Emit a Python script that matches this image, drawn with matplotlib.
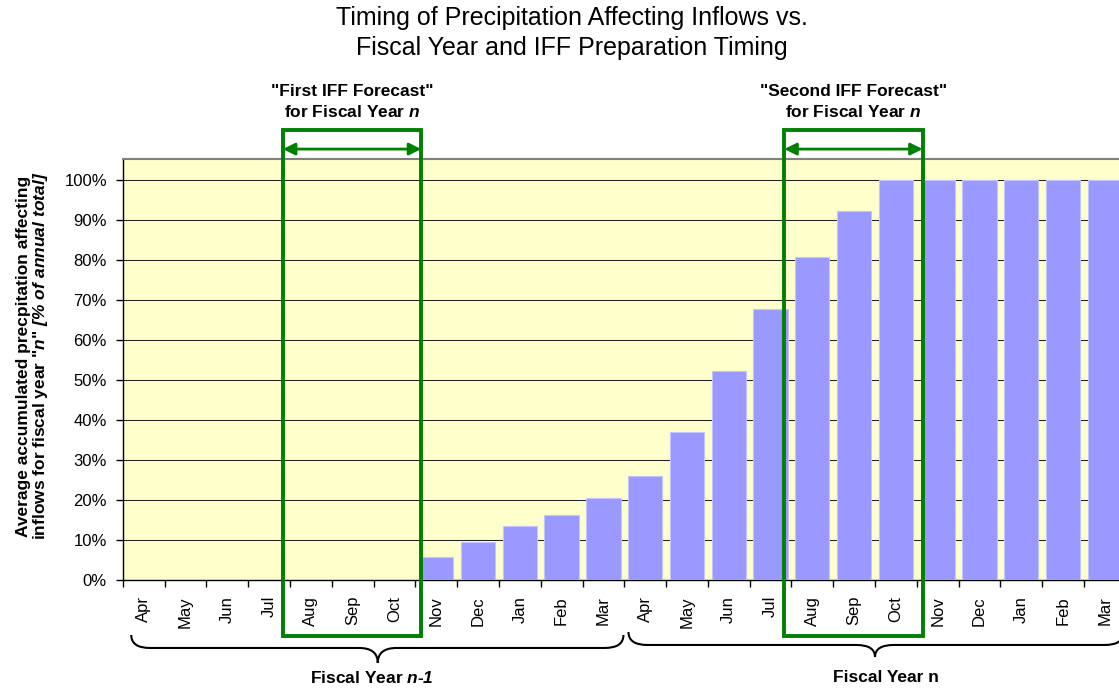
import numpy as np
import matplotlib
matplotlib.use("Agg")
import matplotlib.pyplot as plt
from matplotlib.patches import Rectangle, PathPatch
from matplotlib.path import Path
from matplotlib.ticker import PercentFormatter

plt.rcParams['font.family'] = ['Liberation Sans', 'DejaVu Sans']
# math segments are only used for the bold-italic bits of the labels
plt.rcParams['mathtext.fontset'] = 'custom'
plt.rcParams['mathtext.rm'] = 'Liberation Sans:bold:italic'
plt.rcParams['mathtext.bf'] = 'Liberation Sans:bold:italic'
plt.rcParams['mathtext.it'] = 'Liberation Sans:bold:italic'

# data
months = ['Apr', 'May', 'Jun', 'Jul', 'Aug', 'Sep', 'Oct', 'Nov', 'Dec', 'Jan', 'Feb', 'Mar']
fy_prev = [0, 0, 0, 0, 0, 0, 0, 0.058, 0.096, 0.135, 0.1625, 0.206]
fy_curr = [0.26, 0.369, 0.5225, 0.677, 0.807, 0.923, 1.0, 1.0, 1.0, 1.0, 1.0, 1.0]
labels = months + months
values = fy_prev + fy_curr

forecast_names = ['"First IFF Forecast"', '"Second IFF Forecast"']
forecast_spans = [(3.33, 6.64), (15.33, 18.64)]   # in month-index units

green = '#008000'

fig = plt.figure(figsize=(11.19, 6.88), dpi=100)
ax = fig.add_axes([0.1098, 0.157, 0.8962, 0.6115])

x = np.arange(len(values))
ax.bar(x, values, width=0.82, color='#9999FF', edgecolor='#C4C4FF', linewidth=0.8, zorder=3)
ax.set_facecolor('#FFFFCC')
ax.set_xlim(-0.5, len(values) - 0.5)
ax.set_ylim(0, 1.052)

ax.set_yticks(np.arange(0, 1.01, 0.1))
ax.yaxis.set_major_formatter(PercentFormatter(1.0, decimals=0))
ax.yaxis.grid(True, color='#222222', lw=0.75)
ax.set_axisbelow(True)
ax.tick_params(axis='y', direction='out', length=5, width=1, pad=6.5, labelsize=12)

ax.set_xticks(x)
ax.set_xticklabels(labels, rotation=90, fontsize=12)
ax.set_xticks(np.arange(-0.5, len(values)), minor=True)
ax.tick_params(axis='x', which='major', length=0, pad=11.5)
ax.tick_params(axis='x', which='minor', direction='out', length=5, width=1)

ax.spines['top'].set_color('#808080')
ax.spines['top'].set_linewidth(1.5)
ax.spines['right'].set_visible(False)
for s in ['left', 'bottom']:
    ax.spines[s].set_color('black')
    ax.spines[s].set_linewidth(1)

# pixel rows -> data y (0% at 580 px, 40 px per 10%)
def py(p):
    return (580 - p) / 400

# forecast boxes with arrows
for name, (x0, x1) in zip(forecast_names, forecast_spans):
    ax.add_patch(Rectangle((x0, py(636)), x1 - x0, py(130) - py(636), fill=False,
                           edgecolor=green, lw=2.8, joinstyle='miter',
                           clip_on=False, zorder=6))
    ax.annotate('', xy=(x1, py(149)), xytext=(x0, py(149)),
                arrowprops=dict(arrowstyle='<|-|>', color=green, lw=2,
                                mutation_scale=18, shrinkA=0, shrinkB=0),
                annotation_clip=False, zorder=5)
    ax.text((x0 + x1) / 2, py(102), name + '\nfor Fiscal Year $n$',
            ha='center', va='center', fontsize=12.5, fontweight='bold',
            linespacing=1.35, clip_on=False)

# curly braces under the months
def brace(x0, x1, xc, y_tip, y_line, y_pt, d=0.45):
    verts = [(x0, y_tip), (x0, y_line), (x0 + d, y_line),
             (xc - d, y_line), (xc, y_line), (xc, y_pt),
             (xc, y_line), (xc + d, y_line),
             (x1 - d, y_line), (x1, y_line), (x1, y_tip)]
    codes = [Path.MOVETO, Path.CURVE3, Path.CURVE3,
             Path.LINETO, Path.CURVE3, Path.CURVE3,
             Path.CURVE3, Path.CURVE3,
             Path.LINETO, Path.CURVE3, Path.CURVE3]
    ax.add_patch(PathPatch(Path(verts, codes), fill=False, edgecolor='black',
                           lw=1.5, clip_on=False, zorder=4))

brace(-0.3, 11.48, 5.6, py(635), py(648), py(663))
brace(11.6, 23.45, 17.5, py(632), py(645), py(657))

ax.text(5.45, py(678), 'Fiscal Year $n$-$1$', ha='center', va='center',
        fontsize=12.5, fontweight='bold', clip_on=False)
ax.text(17.75, py(678), 'Fiscal Year n', ha='center', va='center',
        fontsize=12.5, fontweight='bold', clip_on=False)

# y label
fig.text(33 / 1119, 1 - 356 / 688,
         'Average accumulated precpitation affecting\n'
         'inflows for fiscal year "$n$" $[\\%\\ of\\ annual\\ total]$',
         rotation=90, ha='center', va='center', fontsize=12.5, fontweight='bold',
         linespacing=1.05, multialignment='center')

# title
fig.text(572 / 1119, 1 - 33 / 688,
         'Timing of Precipitation Affecting Inflows vs.\nFiscal Year and IFF Preparation Timing',
         ha='center', va='center', fontsize=18, linespacing=1.3)

fig.savefig('out.png', dpi=100)
